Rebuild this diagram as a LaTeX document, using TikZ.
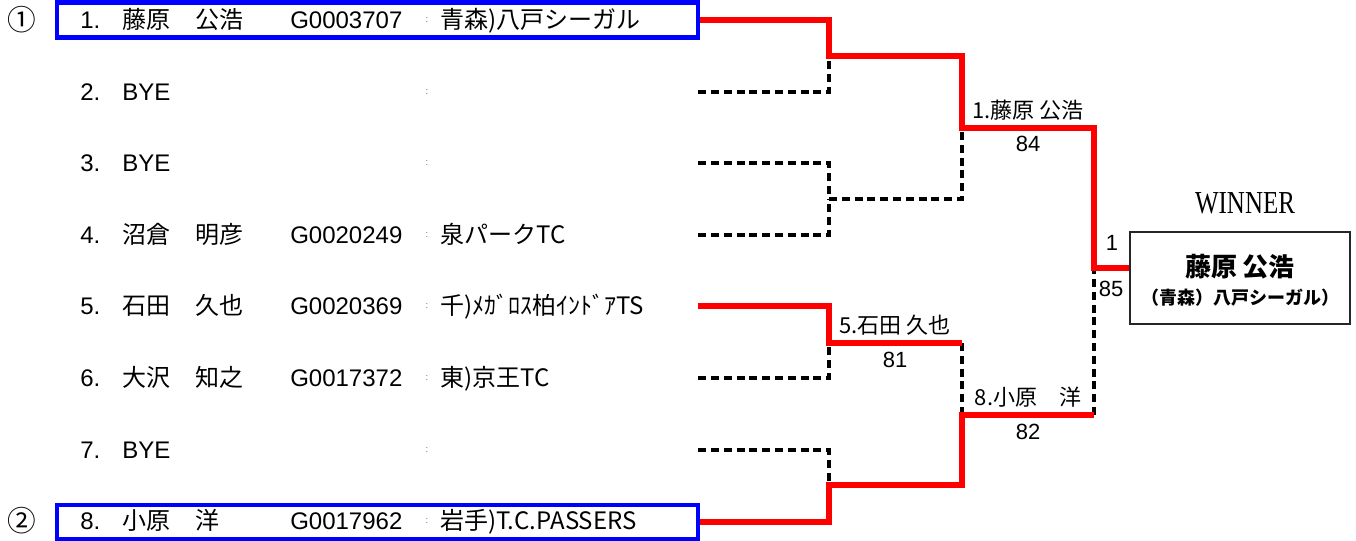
\documentclass[tikz,border=0pt]{standalone}
\usepackage{fontspec}
\usepackage{graphicx}
\setmainfont{Liberation Sans}
\newfontfamily\jp{Noto Sans CJK JP}
\newfontfamily\winserif{Liberation Serif}
\definecolor{pureblue}{RGB}{0,0,255}
\definecolor{purered}{RGB}{255,0,0}
\newcommand\entryrow[7]{%
  \node[lab,anchor=base west] (num#1) at (80,#2+8) {#3};
  \node[lab,anchor=base west] (na#1) at (122,#2+8) {\jp #4};
  \node[lab,anchor=base west] (nb#1) at (195,#2+8) {\jp #5};
  \node[lab,anchor=base west] (id#1) at (290,#2+8) {#6};
  \node[colon] (co#1) at (427,#2) {:};
  \node[lab,anchor=base west] (cl#1) at (440,#2+8) {\jp #7};
}
\newcommand\byerow[3]{%
  \node[lab,anchor=base west] (num#1) at (80,#2+8) {#3};
  \node[lab,anchor=base west] (na#1) at (122,#2+8) {BYE};
  \node[colon] (co#1) at (427,#2) {:};
}
\begin{document}
\begin{tikzpicture}[x=0.75pt,y=-0.75pt,
  lab/.style={inner sep=0pt,font=\fontsize{18}{20}\selectfont},
  sm/.style={inner sep=0pt,font=\fontsize{16.5}{19}\selectfont},
  colon/.style={inner sep=0pt,font=\fontsize{7}{8}\selectfont,text=black!60},
  entrybox/.style={rectangle,inner sep=0pt,minimum width=480.75pt,minimum height=26.5pt},
  seed/.style={inner sep=0pt,font=\fontsize{21.5}{24}\selectfont\jp},
  redl/.style={draw=purered,line width=3.8pt},
  dashl/.style={draw=black,line width=2.3pt,dash pattern=on 6pt off 3.6pt},
]
\useasboundingbox (0,0) rectangle (1356,540);

% circled seeds
\node[seed] (seed1) at (22,20) {①};
\node[seed] (seed2) at (22,521) {②};

% entry boxes (anchors for the connectors)
\node[entrybox,draw=pureblue,line width=3.4pt] (e1) at (377.5,20) {};
\node[entrybox] (e2) at (377.5,92) {};
\node[entrybox] (e3) at (377.5,163) {};
\node[entrybox] (e4) at (377.5,235) {};
\node[entrybox] (e5) at (377.5,306) {};
\node[entrybox] (e6) at (377.5,378) {};
\node[entrybox] (e7) at (377.5,450) {};
\node[entrybox,draw=pureblue,line width=2.4pt,minimum height=25.5pt] (e8) at (377.5,522) {};

% entries
\entryrow{1}{20}{1.}{藤原}{公浩}{G0003707}{青森)八戸シーガル}
\byerow{2}{92}{2.}
\byerow{3}{163}{3.}
\entryrow{4}{235}{4.}{沼倉}{明彦}{G0020249}{泉パークTC}
\entryrow{5}{306}{5.}{石田}{久也}{G0020369}{千)ﾒｶﾞﾛｽ柏ｲﾝﾄﾞｱTS}
\entryrow{6}{378}{6.}{大沢}{知之}{G0017372}{東)京王TC}
\byerow{7}{450}{7.}
\entryrow{8}{521}{8.}{小原}{洋}{G0017962}{岩手)T.C.PASSERS}

% bracket junctions
\coordinate (m12) at (829,56);
\coordinate (m34) at (829,199);
\coordinate (m56) at (829,343);
\coordinate (m78) at (829,485);
\coordinate (s1) at (962,128);
\coordinate (s2) at (962,415);
\coordinate (f) at (1094,268);

% winner box
\node[rectangle,draw=black!85,line width=1.5pt,minimum width=165pt,minimum height=69pt,inner sep=0pt] (win) at (1240,278) {};
\node[inner sep=0pt,font=\fontsize{19.5}{22}\selectfont\bfseries] (wname) at (1240,267) {\jp 藤原 公浩};
\node[inner sep=0pt,font=\fontsize{13.5}{16}\selectfont\bfseries] (wclub) at (1240,298) {\jp （青森）八戸シーガル）};
\node[inner sep=0pt,font=\fontsize{24}{26}\selectfont] (wtitle) at (1245,203) {\scalebox{0.78}[1]{\winserif WINNER}};

% dashed (losing) lines
\draw[dashl] (e2.east) -| (m12);
\draw[dashl] (e3.east) -| (m34);
\draw[dashl] (e4.east) -| (m34);
\draw[dashl] (m34) -| (s1);
\draw[dashl] (e6.east) -| (m56);
\draw[dashl] (e7.east) -| (m78);
\draw[dashl] (m56 -| s2) -- (s2);
\draw[dashl] (s2 -| f) -- (f);

% red (winning) lines
\draw[redl] (e1.east) -| (m12) -| (s1) -| (f) -- (f -| win.west);
\draw[redl] (e5.east) -| (m56) -- (m56 -| s2);
\draw[redl] (e8.east) -| (m78) -| (s2) -- (s2 -| f);

% match labels
\node[sm] (w1) at (1028,110) {\jp 1.藤原 公浩};
\node[sm] (sc1) at (1028,144) {84};
\node[sm] (w2) at (895,325) {\jp 5.石田 久也};
\node[sm] (sc2) at (895,360) {81};
\node[sm] (w3) at (1028,397) {\jp 8.小原　洋};
\node[sm] (sc3) at (1028,432) {82};
\node[sm] (fw) at (1112,243) {1};
\node[sm] (fs) at (1111,289) {85};
\end{tikzpicture}
\end{document}
